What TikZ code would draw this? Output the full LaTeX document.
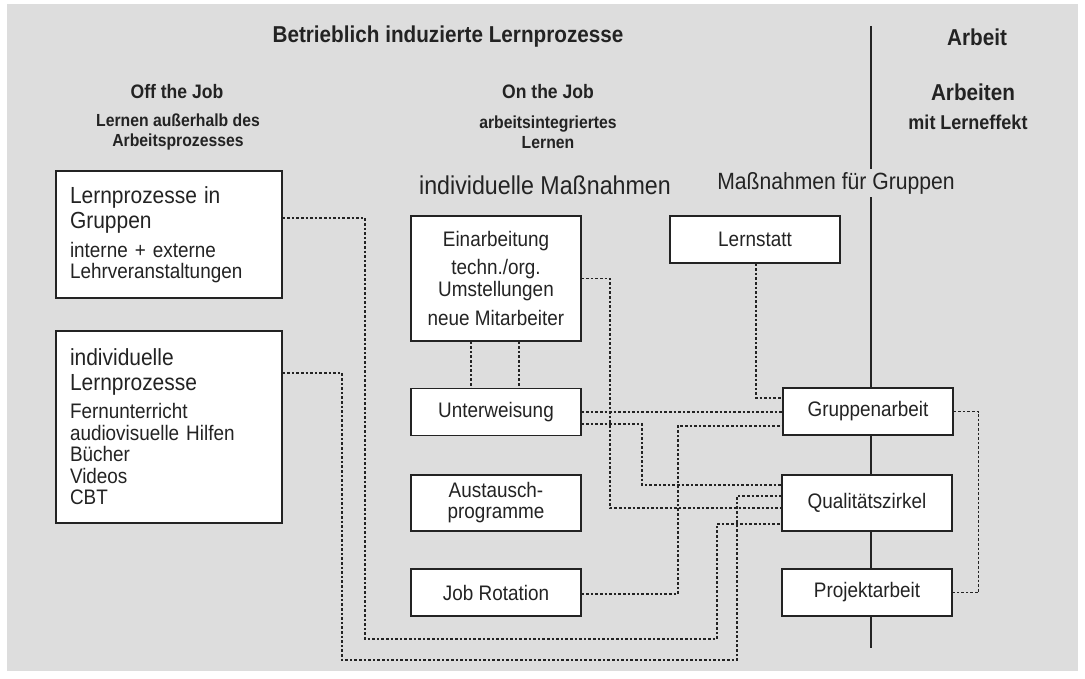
\documentclass[tikz,border=0pt]{standalone}
\usepackage{fontspec}
\setmainfont{Liberation Sans}[FakeStretch=0.9]
\usetikzlibrary{calc}
\definecolor{bgGray}{RGB}{221,221,221}
\definecolor{inkDark}{RGB}{35,35,35}

\begin{document}
\begin{tikzpicture}[x=1pt,y=-1pt,
    box/.style={draw=inkDark, line width=1.2pt, fill=white, text=inkDark,
        minimum width=170pt, minimum height=47pt, inner sep=0pt, align=center,
        font=\fontsize{21}{22}\selectfont},
    lbox/.style={box, text width=198pt, inner xsep=14pt, align=left},
    link/.style={draw=inkDark, line width=1.1pt, dash pattern=on 2.6pt off 2pt},
    head/.style={text=inkDark, inner sep=0pt, align=center, font=\bfseries\fontsize{23}{24}\selectfont},
    colhead/.style={head, font=\bfseries\fontsize{19.5}{21}\selectfont},
    subhead/.style={head, font=\bfseries\fontsize{17.5}{19.5}\selectfont},
    measure/.style={text=inkDark, inner sep=3pt, font=\fontsize{23.5}{25}\selectfont}]

    \useasboundingbox (0,0) rectangle (1085,679);
    \fill[bgGray] (7,4) rectangle (1078,671);

    \coordinate (divTop) at (871,26);
    \coordinate (divBot) at (871,648);
    \draw[inkDark, line width=1.2pt] (divTop) -- (divBot);

    % headings
    \node[head] (title) at (448,37) {Betrieblich induzierte Lernprozesse};
    \node[head] (arbeit) at (977,37) {Arbeit};
    \node[colhead] (offJob) at (177,92) {Off the Job};
    \node[subhead] (offSub) at (178,132) {Lernen außerhalb des\\Arbeitsprozesses};
    \node[colhead] (onJob) at (548,92) {On the Job};
    \node[subhead] (onSub) at (548,132) {arbeitsintegriertes\\Lernen};
    \node[head] (arbeiten) at (973,92) {Arbeiten};
    \node[subhead, font=\bfseries\fontsize{20}{21}\selectfont] (arbSub) at (968,122) {mit Lerneffekt};
    \node[measure, font=\fontsize{25.8}{25}\selectfont] (indMass) at (545,185) {individuelle Maßnahmen};
    \node[measure, fill=bgGray] (grpMass) at (836,183) {Maßnahmen für Gruppen};

    % off the job
    \node[lbox, minimum height=127pt] (grpLern) at (169,234.5)
        {{\fontsize{23.3}{25}\selectfont Lernprozesse in\\Gruppen\par}\vspace{9pt}%
         {\fontsize{21}{20.5}\selectfont interne + externe\\Lehrveranstaltungen\par}};
    \node[lbox, minimum height=192pt] (indLern) at (169,427)
        {{\fontsize{23.3}{25}\selectfont individuelle\\Lernprozesse\par}\vspace{6.5pt}%
         {\fontsize{21}{21.5}\selectfont Fernunterricht\\audiovisuelle Hilfen\\Bücher\\Videos\\CBT\par}};

    % on the job
    \node[box, minimum height=125pt] (einarb) at (496,278.5)
        {Einarbeitung\\[6pt]techn./org.\\Umstellungen\\[7pt]neue Mitarbeiter};
    \node[box] (unterw) at (496,412) {Unterweisung};
    \node[box, minimum height=56pt, font=\fontsize{21}{21}\selectfont] (austausch) at (496,503) {Austausch-\\programme};
    \node[box] (jobRot) at (496,592.5) {Job Rotation};

    \node[box] (lernstatt) at (755,239.5) {Lernstatt};
    \node[box] (gruppen) at (868,411.5) {Gruppenarbeit};
    \node[box, minimum height=56pt] (qz) at (867,503) {Qualitätszirkel};
    \node[box] (projekt) at (867,592.5) {Projektarbeit};

    % dotted links
    \draw[link] ([yshift=16.5pt]grpLern.east) -| (365,639) -| (717,524) -- ([yshift=-21pt]qz.west);
    \draw[link] ([yshift=54pt]indLern.east) -| (342,660) -| (737,496) -- ([yshift=7pt]qz.west);
    \draw[link] (einarb.east) -| (610,508) -- ([yshift=-5pt]qz.west);
    \draw[link] ([xshift=-25pt]einarb.south) -- ([xshift=-25pt]unterw.north);
    \draw[link] ([xshift=23pt]einarb.south) -- ([xshift=23pt]unterw.north);
    \draw[link] (unterw.east) -- (unterw.east -| gruppen.west);
    \draw[link] ([yshift=-12pt]unterw.east) -| (642,485) -- ([yshift=18pt]qz.west);
    \draw[link] ([yshift=-1.5pt]jobRot.east) -| (678,426) -- ([yshift=-14.5pt]gruppen.west);
    \draw[link] ([xshift=1pt]lernstatt.south) |- ([yshift=13.5pt]gruppen.west);
    \draw[link] (gruppen.east) -- ++(25,0) |- (projekt.east);
\end{tikzpicture}
\end{document}
